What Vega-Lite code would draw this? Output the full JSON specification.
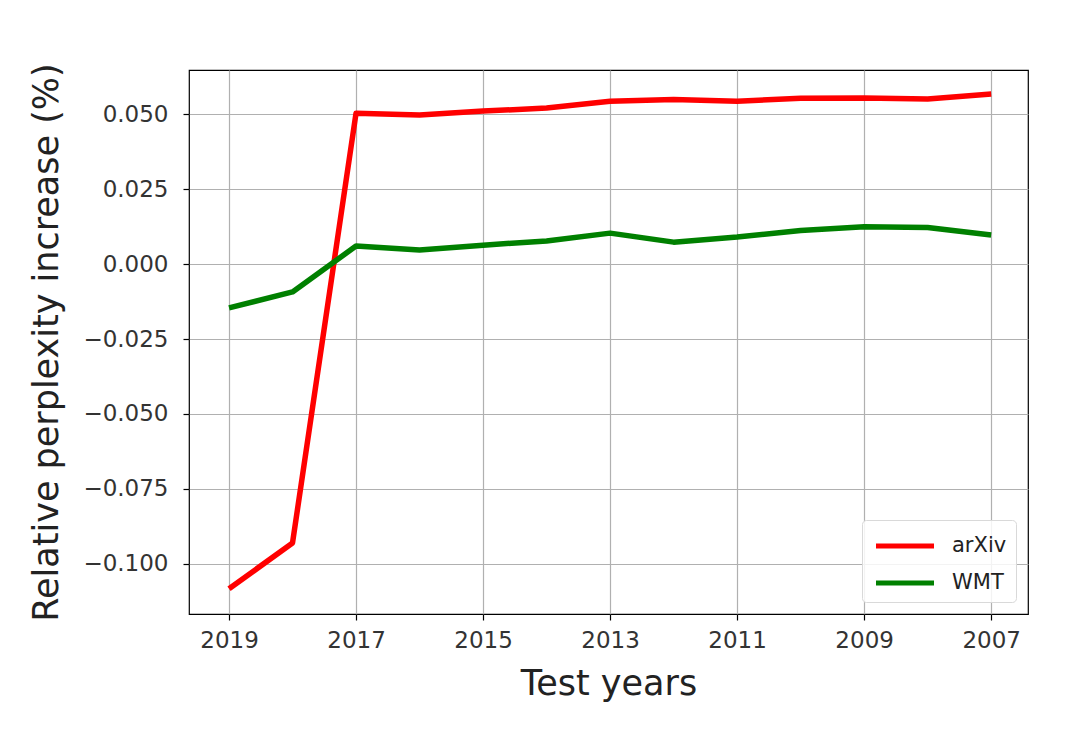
{
  "$schema": "https://vega.github.io/schema/vega-lite/v6.json",
  "autosize": {"type": "none"},
  "padding": {"left": 189, "top": 70, "right": 52, "bottom": 116},
  "width": 839,
  "height": 544,
  "background": "white",
  "config": {
    "view": {"stroke": "#000000", "strokeWidth": 1.2},
    "font": "DejaVu Sans"
  },
  "data": {
    "values": [
      {"year": 2019, "series": "arXiv", "value": -0.1083},
      {"year": 2018, "series": "arXiv", "value": -0.0930},
      {"year": 2017, "series": "arXiv", "value": 0.0503},
      {"year": 2016, "series": "arXiv", "value": 0.0497},
      {"year": 2015, "series": "arXiv", "value": 0.0510},
      {"year": 2014, "series": "arXiv", "value": 0.0520},
      {"year": 2013, "series": "arXiv", "value": 0.0543},
      {"year": 2012, "series": "arXiv", "value": 0.0549},
      {"year": 2011, "series": "arXiv", "value": 0.0543},
      {"year": 2010, "series": "arXiv", "value": 0.0553},
      {"year": 2009, "series": "arXiv", "value": 0.0554},
      {"year": 2008, "series": "arXiv", "value": 0.0550},
      {"year": 2007, "series": "arXiv", "value": 0.0567},
      {"year": 2019, "series": "WMT", "value": -0.0146},
      {"year": 2018, "series": "WMT", "value": -0.0093},
      {"year": 2017, "series": "WMT", "value": 0.0060},
      {"year": 2016, "series": "WMT", "value": 0.0047},
      {"year": 2015, "series": "WMT", "value": 0.0063},
      {"year": 2014, "series": "WMT", "value": 0.0077},
      {"year": 2013, "series": "WMT", "value": 0.0103},
      {"year": 2012, "series": "WMT", "value": 0.0073},
      {"year": 2011, "series": "WMT", "value": 0.0090},
      {"year": 2010, "series": "WMT", "value": 0.0112},
      {"year": 2009, "series": "WMT", "value": 0.0124},
      {"year": 2008, "series": "WMT", "value": 0.0122},
      {"year": 2007, "series": "WMT", "value": 0.0097}
    ]
  },
  "mark": {"type": "line", "strokeWidth": 5.5, "strokeCap": "butt", "strokeJoin": "round"},
  "encoding": {
    "x": {
      "field": "year",
      "type": "quantitative",
      "scale": {"domain": [2006.42, 2019.63], "reverse": true, "nice": false, "zero": false},
      "axis": {
        "title": "Test years",
        "values": [2019, 2017, 2015, 2013, 2011, 2009, 2007],
        "format": "d",
        "domain": false,
        "grid": true,
        "gridColor": "#b0b0b0",
        "gridWidth": 1.2,
        "ticks": true,
        "tickColor": "#000000",
        "tickSize": 6,
        "tickWidth": 1.2,
        "labelFont": "DejaVu Sans",
        "labelFontSize": 23,
        "labelColor": "#333333",
        "labelPadding": 9,
        "labelFlush": false,
        "titleFont": "DejaVu Sans",
        "titleFontSize": 35,
        "titleFontWeight": "normal",
        "titleColor": "#222222",
        "titlePadding": 14
      }
    },
    "y": {
      "field": "value",
      "type": "quantitative",
      "scale": {"domain": [-0.1167, 0.0647], "nice": false, "zero": false},
      "axis": {
        "title": "Relative perplexity increase (%)",
        "values": [-0.1, -0.075, -0.05, -0.025, 0, 0.025, 0.05],
        "format": ".3f",
        "domain": false,
        "grid": true,
        "gridColor": "#b0b0b0",
        "gridWidth": 1.2,
        "ticks": true,
        "tickColor": "#000000",
        "tickSize": 6,
        "tickWidth": 1.2,
        "labelFont": "DejaVu Sans",
        "labelFontSize": 23,
        "labelColor": "#333333",
        "labelPadding": 15,
        "titleFont": "DejaVu Sans",
        "titleFontSize": 35,
        "titleFontWeight": "normal",
        "titleColor": "#222222",
        "titlePadding": 18
      }
    },
    "color": {
      "field": "series",
      "type": "nominal",
      "scale": {"domain": ["arXiv", "WMT"], "range": ["#ff0000", "#008000"]},
      "legend": {
        "title": null,
        "orient": "bottom-right",
        "offset": 12,
        "symbolType": "M-2,0H2",
        "symbolStrokeWidth": 5,
        "symbolSize": 841,
        "symbolOffset": 17,
        "labelFont": "DejaVu Sans",
        "labelFontSize": 21,
        "labelColor": "#222222",
        "labelOffset": 30,
        "rowPadding": 10,
        "padding": 9,
        "strokeColor": "#d9d9d9",
        "fillColor": "rgba(255,255,255,0.85)",
        "cornerRadius": 4
      }
    }
  }
}
